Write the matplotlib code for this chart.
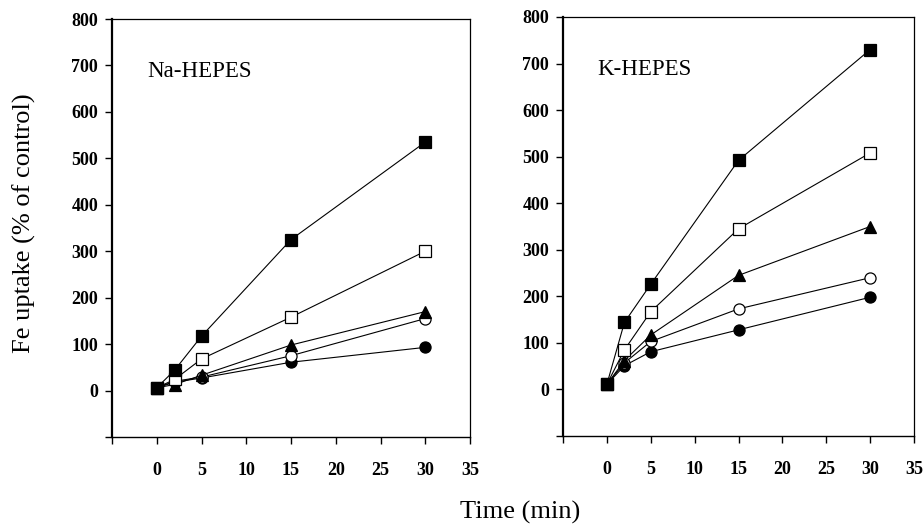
import numpy as np
import matplotlib
matplotlib.use("Agg")
import matplotlib.pyplot as plt

plt.rcParams['font.family'] = ['Liberation Serif', 'DejaVu Serif']

# Time points (min)
time = [0, 2, 5, 15, 30]

# Na-HEPES panel, Fe uptake (% of control)
na_filled_sq = [6, 44, 117, 325, 535]
na_open_sq = [6, 24, 68, 158, 300]
na_triangle = [6, 13, 33, 98, 170]
na_open_circ = [6, 20, 29, 75, 155]
na_filled_circ = [6, 18, 27, 61, 93]

# K-HEPES panel
k_filled_sq = [11, 144, 226, 492, 730]
k_open_sq = [11, 85, 167, 345, 508]
k_triangle = [11, 62, 117, 245, 350]
k_open_circ = [11, 57, 103, 173, 240]
k_filled_circ = [11, 51, 81, 128, 198]

yticks = np.arange(-100, 801, 100)
xticks = np.arange(-5, 36, 5)

# marker, face colour, size
styles = [('s', 'black', 8), ('s', 'white', 8), ('^', 'black', 8.5),
          ('o', 'white', 8), ('o', 'black', 8)]

fig = plt.figure(figsize=(9.24, 5.24), dpi=100)
ax1 = fig.add_axes([112/924, 87/524, 358/924, 418/524])
ax2 = fig.add_axes([563/924, 88/524, 351/924, 419/524])


def draw_panel(ax, series, title):
    # draw in reverse so the filled squares sit on top
    for ys, (m, fc, ms) in reversed(list(zip(series, styles))):
        ax.plot(time, ys, color='black', lw=0.8, marker=m, markerfacecolor=fc,
                markeredgecolor='black', markersize=ms, markeredgewidth=0.9,
                clip_on=False)
    ax.set_xlim(-5, 35)
    ax.set_ylim(-100, 800)
    ax.set_xticks(xticks)
    ax.set_xticklabels(['' if t < 0 else str(t) for t in xticks])
    ax.set_yticks(yticks)
    ax.set_yticklabels(['' if v < 0 else str(v) for v in yticks])
    for lab in ax.get_xticklabels() + ax.get_yticklabels():
        lab.set_fontweight('bold')
    ax.tick_params(axis='x', direction='out', length=5, width=1, pad=13, labelsize=13)
    ax.tick_params(axis='y', direction='out', length=5, width=1, pad=5, labelsize=13)
    ax.spines['left'].set_linewidth(1.6)
    ax.spines['bottom'].set_linewidth(1.0)
    ax.spines['top'].set_linewidth(0.9)
    ax.spines['right'].set_linewidth(0.9)
    ax.text(0.098, 0.874, title, transform=ax.transAxes, fontsize=16.5, va='center')


draw_panel(ax1, [na_filled_sq, na_open_sq, na_triangle, na_open_circ, na_filled_circ], 'Na-HEPES')
draw_panel(ax2, [k_filled_sq, k_open_sq, k_triangle, k_open_circ, k_filled_circ], 'K-HEPES')

fig.text(520/924, 1 - 512/524, 'Time (min)', ha='center', va='center', fontsize=19)
fig.text(24/924, 1 - 223/524, 'Fe uptake (% of control)', ha='center', va='center',
         rotation=90, fontsize=19)

fig.savefig('out.png', dpi=100)
